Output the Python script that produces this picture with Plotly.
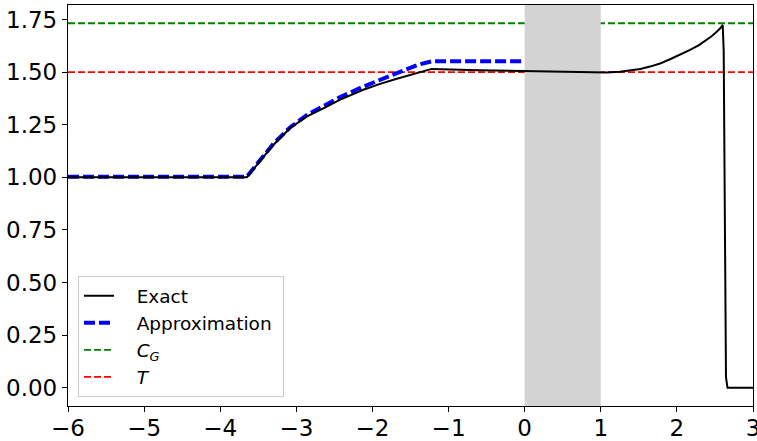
import plotly.graph_objects as go

# Exact solution
exact_x = [-6.0, -3.65, -3.48, -3.30, -3.08, -2.86, -2.645, -2.43, -2.12, -1.9, -1.68, -1.45, -1.22,
           -0.6, 0.0, 0.5, 0.86, 1.08, 1.25, 1.384, 1.52, 1.647, 1.78, 1.91, 2.04, 2.173, 2.29,
           2.392, 2.46, 2.523, 2.57, 2.602, 2.615, 2.645, 2.665, 3.0]
exact_y = [1.0, 1.0, 1.076, 1.155, 1.234, 1.289, 1.328, 1.368, 1.416, 1.444, 1.468, 1.492, 1.515,
           1.509, 1.505, 1.501, 1.498, 1.498, 1.501, 1.507, 1.515, 1.526, 1.541, 1.561, 1.581, 1.605, 1.628,
           1.653, 1.671, 1.692, 1.708, 1.724, 1.60, 0.05, 0.0, 0.0]

# Approximation
approx_x = [-6.0, -3.65, -3.48, -3.30, -3.08, -2.86, -2.645, -2.43, -2.12, -1.68, -1.4, -1.22, 0.0]
approx_y = [1.003, 1.003, 1.08, 1.16, 1.238, 1.296, 1.338, 1.38, 1.431, 1.494, 1.535, 1.551, 1.551]

CG = 3 ** 0.5
T = 1.5
band = [0.0, 1.0]
xlim = [-6, 3]
ymin, ymax = 0.0, CG
pad = 0.05 * (ymax - ymin)
ylim = [ymin - pad, ymax + pad]

x_ticks = [-6, -5, -4, -3, -2, -1, 0, 1, 2, 3]
y_ticks = [0.0, 0.25, 0.5, 0.75, 1.0, 1.25, 1.5, 1.75]

NB = "\u00a0"
lead = NB * 3

fig = go.Figure()
fig.add_trace(go.Scatter(x=xlim, y=[CG, CG], mode="lines", name=lead + "<i>C<sub>G</sub></i>",
                         line=dict(color="green", width=1.8, dash="7px,3px"), legendrank=3))
fig.add_trace(go.Scatter(x=xlim, y=[T, T], mode="lines", name=lead + "<i>T</i>",
                         line=dict(color="red", width=1.8, dash="7px,3px"), legendrank=4))
fig.add_trace(go.Scatter(x=[band[0], band[1], band[1], band[0], band[0]],
                         y=[ylim[0], ylim[0], ylim[1], ylim[1], ylim[0]],
                         mode="lines", fill="toself", fillcolor="lightgrey",
                         line=dict(width=0, color="lightgrey"), showlegend=False, hoverinfo="skip"))
fig.add_trace(go.Scatter(x=approx_x, y=approx_y, mode="lines", name=lead + "Approximation" + NB,
                         line=dict(color="blue", width=4, dash="11px,4px"), legendrank=2))
fig.add_trace(go.Scatter(x=exact_x, y=exact_y, mode="lines", name=lead + "Exact",
                         line=dict(color="black", width=2), legendrank=1))

fig.update_layout(
    width=757, height=441,
    margin=dict(l=68, r=4, t=5, b=35, autoexpand=False),
    plot_bgcolor="white", paper_bgcolor="white",
    font=dict(family="DejaVu Sans", size=23, color="black"),
    showlegend=True,
    legend=dict(x=0.0146, y=0.022, xanchor="left", yanchor="bottom",
                bgcolor="white", bordercolor="#cccccc", borderwidth=1,
                font=dict(size=18.5), tracegroupgap=0),
)
fig.update_xaxes(range=xlim, tickvals=x_ticks,
                 ticktext=[str(v).replace("-", "\u2212") for v in x_ticks],
                 automargin=False, ticklabeloverflow="allow", ticklabelstandoff=-4,
                 showgrid=False, zeroline=False, showline=True, linecolor="black", linewidth=1.3,
                 mirror=True, ticks="outside", ticklen=5, tickwidth=1.2, tickcolor="black")
fig.update_yaxes(range=ylim, tickvals=y_ticks, ticktext=[f"{v:.2f}" for v in y_ticks],
                 automargin=False, ticklabeloverflow="allow",
                 showgrid=False, zeroline=False, showline=True, linecolor="black", linewidth=1.3,
                 mirror=True, ticks="outside", ticklen=5, tickwidth=1.2, tickcolor="black")

fig.write_html("out.html", config={"displayModeBar": False},
               post_script="document.body.style.margin='0';document.body.style.overflow='hidden';")
